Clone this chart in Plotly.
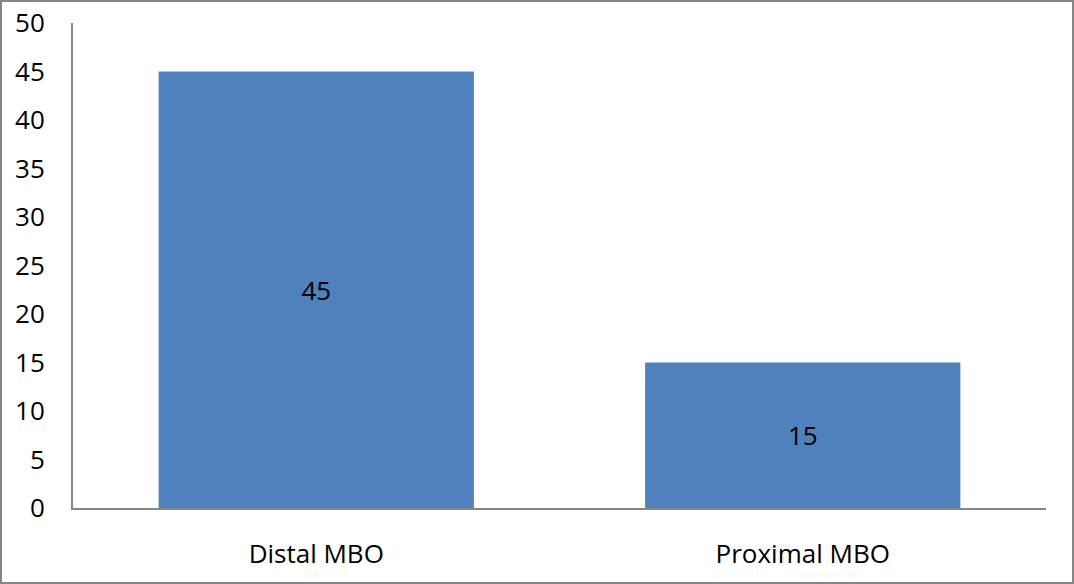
import plotly.graph_objects as go

categories = ["Distal MBO", "Proximal MBO"]
values = [45, 15]
y_ticks = [0, 5, 10, 15, 20, 25, 30, 35, 40, 45, 50]

W, H = 1074, 584
ML, MR, MT, MB = 73, 28, 23, 76
pw = W - ML - MR
ph = H - MT - MB
FONT = "Open Sans, Carlito, sans-serif"

fig = go.Figure(
    go.Bar(
        x=categories,
        y=values,
        marker=dict(color="#4F81BD", line=dict(width=0)),
        text=[str(v) for v in values],
        textposition="inside",
        insidetextanchor="middle",
        textfont=dict(family=FONT, size=26, color="black"),
        textangle=0,
    )
)

# outer frame around the chart area
fig.add_shape(
    type="rect", xref="paper", yref="paper",
    x0=-(ML - 1) / pw, x1=1 + (MR - 1) / pw,
    y0=-(MB - 1) / ph, y1=1 + (MT - 1) / ph,
    line=dict(color="#868686", width=2), fillcolor="rgba(0,0,0,0)",
)

fig.update_layout(
    width=W, height=H,
    margin=dict(l=ML, r=MR, t=MT, b=MB, autoexpand=False),
    paper_bgcolor="white", plot_bgcolor="white",
    bargap=0.352,
    showlegend=False,
    font=dict(family=FONT, size=26, color="black"),
)
fig.update_xaxes(
    showline=True, linecolor="#868686", linewidth=2,
    showgrid=False, ticks="", ticklabelstandoff=22,
    tickfont=dict(size=26), automargin=False,
)
fig.update_yaxes(
    range=[0, 50], tickvals=y_ticks,
    showline=True, linecolor="#868686", linewidth=2,
    showgrid=False, ticks="", zeroline=False,
    ticklabelstandoff=21, tickfont=dict(size=26), automargin=False,
)

fig.write_html("out.html")
